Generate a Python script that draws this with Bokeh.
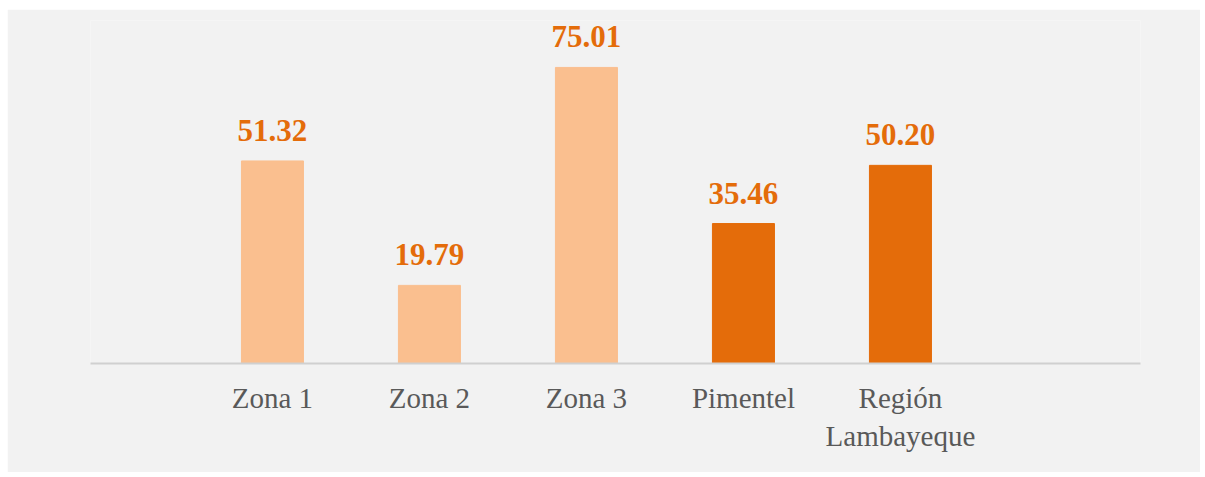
from bokeh.plotting import figure
from bokeh.models import ColumnDataSource, FixedTicker, Spacer
from bokeh.layouts import row, column
from bokeh.core.properties import value
from bokeh.embed import file_html
from bokeh.resources import INLINE

categories = ["Zona 1", "Zona 2", "Zona 3", "Pimentel", "Región\nLambayeque"]
values = [51.32, 19.79, 75.01, 35.46, 50.20]
groups = ["zona", "zona", "zona", "total", "total"]

palette = {"zona": "#fabf8f", "total": "#e46c0a"}

xs = list(range(len(categories)))
src = ColumnDataSource(dict(
    x=xs,
    top=values,
    color=[palette[g] for g in groups],
    label=[f"{v:.2f}" for v in values],
))

p = figure(width=1193, height=463, output_backend="svg", toolbar_location=None,
           x_range=(-1.159, 5.529), y_range=(0, 86.9),
           min_border_left=83, min_border_right=60, min_border_top=11, min_border_bottom=109)
p.background_fill_color = "#f2f2f2"
p.border_fill_color = "#f2f2f2"
p.outline_line_color = None
p.xgrid.grid_line_color = None
p.ygrid.grid_line_color = None
p.yaxis.visible = False

p.vbar(x="x", top="top", width=0.395, bottom=0, color="color", source=src)
p.text(x="x", y="top", text="label", source=src, text_align="center", text_baseline="bottom",
       y_offset=-20, text_font=value("Liberation Serif"), text_font_style="bold",
       text_font_size="31px", text_color="#e46c0a")

p.xaxis.ticker = FixedTicker(ticks=xs)
p.xaxis.major_label_overrides = {i: c for i, c in enumerate(categories)}
p.xaxis.major_tick_line_color = None
p.xaxis.minor_tick_line_color = None
p.xaxis.axis_line_color = "#d0d0d0"
p.xaxis.axis_line_width = 2
p.xaxis.major_label_standoff = 12
p.xaxis.major_label_text_font = "Liberation Serif"
p.xaxis.major_label_text_font_size = "29px"
p.xaxis.major_label_text_color = "#595959"
p.xaxis.major_label_text_font_style = "normal"

layout = column(Spacer(height=9), row(Spacer(width=7), p))

open("out.html", "w").write(file_html(layout, INLINE))
